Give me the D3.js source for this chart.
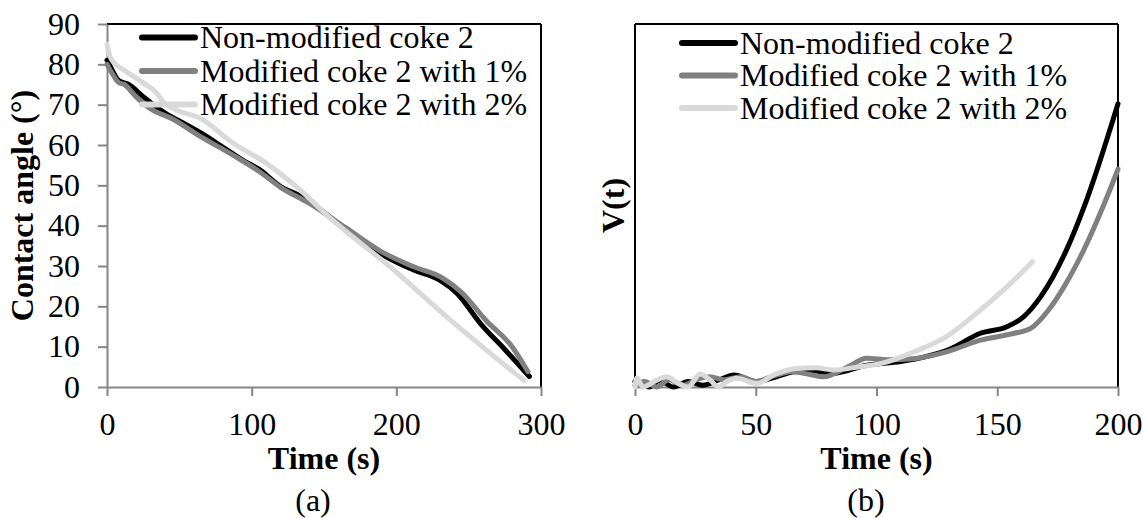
<!DOCTYPE html>
<html>
<head>
<meta charset="utf-8">
<script src="https://cdn.jsdelivr.net/npm/d3@7"></script>
<style>
  html, body { margin: 0; padding: 0; background: #fff; }
  svg { display: block; }
  svg text { font-family: "Liberation Serif", "Times New Roman", serif !important; }
</style>
</head>
<body>
<svg id="chart" width="1143" height="518"></svg>
<script>
// ---------- DATA ----------
const seriesNames = ["Non-modified coke 2", "Modified coke 2 with 1%", "Modified coke 2 with 2%"];
const seriesColors = ["#000000", "#808080", "#d9d9d9"];

// (a) Contact angle vs time
const a0Time = [0, 3, 8, 15, 25, 40, 55, 65, 80, 95, 105, 120, 133, 142, 165, 189, 212, 230, 242, 258, 275, 292];
const a0Angle = [81, 79, 76, 75, 72, 68, 65, 63, 59.5, 56, 54, 49.7, 47.5, 45.5, 39, 33.1, 29, 26.5, 23.2, 15.8, 9.3, 2.6];
const a1Time = [0, 4, 8, 12, 20, 30, 45, 65, 87, 105, 120, 140, 165, 190, 212, 232, 245, 262, 280, 291];
const a1Angle = [80, 77.5, 75.5, 75, 72, 69, 66.5, 62, 57.5, 53.5, 49.5, 45.5, 39.5, 33.5, 29.8, 27, 23.5, 16.5, 10, 3.8];
const a2Time = [0, 2, 6, 12, 25, 34, 39, 48, 65, 87, 110, 133, 154, 200, 235, 262, 288];
const a2Angle = [85, 82, 80, 78.5, 75.4, 73, 70.6, 68.7, 66.5, 60.5, 55.5, 49, 42, 28.5, 17.3, 9.2, 1.7];

// (b) V(t) vs time (relative units, no y ticks)
const b0Time = [0, 3, 6, 10, 16, 22, 28, 35, 41, 50, 57, 63, 71, 82, 96, 110, 120, 130, 143, 154, 161, 168, 178, 187, 200];
const b0V = [1.5, 0.5, 0, 1.8, 0, 1.5, 0.5, 2, 3.3, 1.5, 2.5, 3.8, 4.7, 3.8, 6, 7, 8.3, 10.3, 14.8, 16.6, 19.4, 24.9, 36.8, 51.5, 78];
const b1Time = [0, 4, 9, 14, 20, 26, 31, 37, 44, 50, 57, 65, 72, 78, 88, 96, 105, 115, 129, 143, 157, 164, 171, 178, 186, 194, 200];
const b1V = [0.5, 1.5, 0, 2, 0.5, 2.2, 2.8, 2, 2.8, 1.5, 3, 4.2, 3.5, 2.8, 5.5, 7.9, 7.5, 7.8, 9.7, 12.9, 14.8, 16.2, 21, 28, 38, 50, 60];
const b2Time = [0, 0.7, 3.3, 8, 13, 18, 22, 27, 31, 34.6, 38, 42, 50.5, 58, 67, 75, 82, 93, 102, 115.5, 129, 143, 154, 164.6];
const b2V = [0, 2.5, 0, 1.5, 2.8, 1, 0, 3.6, 2, 0, 1.5, 2.4, 1, 3.5, 5.1, 5.3, 4.7, 5.6, 6.5, 9.7, 13.9, 21.2, 27.6, 34.5];

const aYTicks = [0, 10, 20, 30, 40, 50, 60, 70, 80, 90];
const aXTicks = [0, 100, 200, 300];
const bXTicks = [0, 50, 100, 150, 200];

// ---------- DRAW ----------
const svg = d3.select("#chart");
const FS = 32;
const AXIS_GRAY = "#868686";
const LW = 5;

function zip(t, v) { return t.map((d, i) => ({ t: d, v: v[i] })); }

function panel(opts) {
  const { x0, x1, y0, y1, xDomain, yDomain, xTicks, yTicks, series, legendX, legendY, legendStep, yLabel, yLabelX, subLabel, subLabelX, showLeftAxis } = opts;
  const x = d3.scaleLinear().domain(xDomain).range([x0, x1]);
  const y = d3.scaleLinear().domain(yDomain).range([y1, y0]);
  const g = svg.append("g");

  g.append("line").attr("x1", x0).attr("x2", x1).attr("y1", y0).attr("y2", y0).attr("stroke", "#000").attr("stroke-width", 2);
  g.append("line").attr("x1", x1).attr("x2", x1).attr("y1", y0).attr("y2", y1).attr("stroke", "#000").attr("stroke-width", 2);
  if (!showLeftAxis) {
    g.append("line").attr("x1", x0).attr("x2", x0).attr("y1", y0).attr("y2", y1).attr("stroke", "#000").attr("stroke-width", 2);
  }

  const xa = g.append("g").attr("transform", `translate(0,${y1})`)
    .call(d3.axisBottom(x).tickValues(xTicks).tickSize(9).tickSizeOuter(0).tickPadding(16).tickFormat(d3.format("d")));
  xa.select(".domain").attr("stroke", AXIS_GRAY).attr("stroke-width", 2);
  xa.selectAll(".tick line").attr("stroke", AXIS_GRAY).attr("stroke-width", 2);
  xa.selectAll(".tick text").attr("fill", "#000").style("font-size", FS + "px");

  if (showLeftAxis) {
    const ya = g.append("g").attr("transform", `translate(${x0},0)`)
      .call(d3.axisLeft(y).tickValues(yTicks).tickSize(9).tickSizeOuter(0).tickPadding(18).tickFormat(d3.format("d")));
    ya.select(".domain").attr("stroke", AXIS_GRAY).attr("stroke-width", 2);
    ya.selectAll(".tick line").attr("stroke", AXIS_GRAY).attr("stroke-width", 2);
    ya.selectAll(".tick text").attr("fill", "#000").style("font-size", FS + "px");
  }

  const line = d3.line().x(d => x(d.t)).y(d => y(d.v)).curve(d3.curveMonotoneX);
  series.forEach((s, i) => {
    g.append("path").datum(s).attr("d", line)
      .attr("fill", "none").attr("stroke", seriesColors[i]).attr("stroke-width", LW)
      .attr("stroke-linecap", "round").attr("stroke-linejoin", "round");
  });

  seriesNames.forEach((name, i) => {
    const ly = legendY + i * legendStep;
    g.append("line").attr("x1", legendX).attr("x2", legendX + 53).attr("y1", ly).attr("y2", ly)
      .attr("stroke", seriesColors[i]).attr("stroke-width", 6).attr("stroke-linecap", "round");
    g.append("text").attr("x", legendX + 58).attr("y", ly + 10.5).text(name)
      .style("font-size", FS + "px").attr("fill", "#000");
  });

  const cx = (x0 + x1) / 2;
  g.append("text").attr("x", cx).attr("y", 469).attr("text-anchor", "middle")
    .style("font-size", FS + "px").style("font-weight", "bold").text("Time (s)");
  g.append("text").attr("transform", `translate(${yLabelX},${(y0 + y1) / 2}) rotate(-90)`)
    .attr("text-anchor", "middle").style("font-size", FS + "px").style("font-weight", "bold").text(yLabel);
  g.append("text").attr("x", subLabelX).attr("y", 511).attr("text-anchor", "middle")
    .style("font-size", FS + "px").text(subLabel);
}

panel({
  x0: 107, x1: 541, y0: 24, y1: 387,
  xDomain: [0, 300], yDomain: [0, 90],
  xTicks: aXTicks, yTicks: aYTicks,
  series: [zip(a0Time, a0Angle), zip(a1Time, a1Angle), zip(a2Time, a2Angle)],
  legendX: 142, legendY: 37.5, legendStep: 33.5,
  yLabel: "Contact angle (°)", yLabelX: 33,
  subLabel: "(a)", subLabelX: 313, showLeftAxis: true
});

panel({
  x0: 635, x1: 1118, y0: 24, y1: 387,
  xDomain: [0, 200], yDomain: [0, 100],
  xTicks: bXTicks, yTicks: [],
  series: [zip(b0Time, b0V), zip(b1Time, b1V), zip(b2Time, b2V)],
  legendX: 682, legendY: 43, legendStep: 32.5,
  yLabel: "V(t)", yLabelX: 624,
  subLabel: "(b)", subLabelX: 866, showLeftAxis: false
});
</script>
</body>
</html>
